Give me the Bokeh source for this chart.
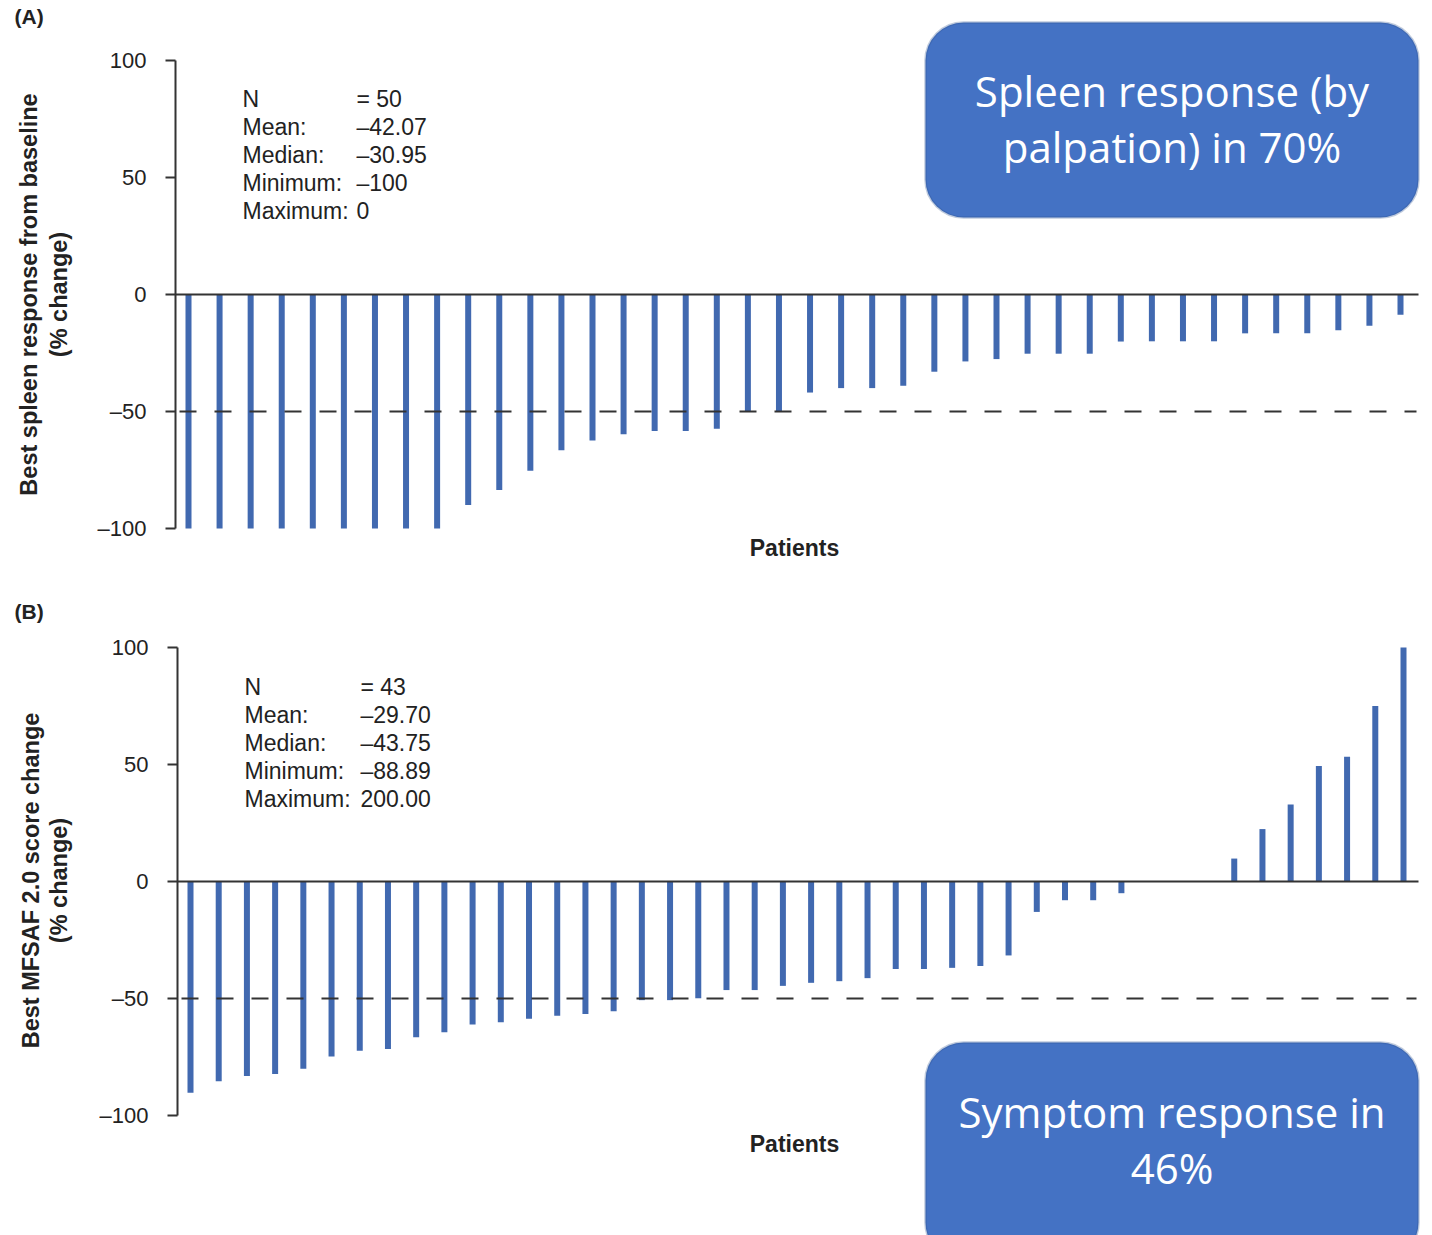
import math
from bokeh.plotting import figure
from bokeh.models import Range1d, Label, BoxAnnotation, FixedTicker, LinearAxis
from bokeh.layouts import column
from bokeh.embed import file_html
from bokeh.resources import INLINE

# ---------------- data ----------------
spleen_change = [-100, -100, -100, -100, -100, -100, -100, -100, -100, -90.0,
                 -83.6, -75.3, -66.6, -62.4, -59.7, -58.3, -58.3, -57.4, -50.0, -50.0,
                 -41.9, -40.0, -40.0, -39.0, -33.0, -28.6, -27.6, -25.3, -25.3, -25.3,
                 -20.1, -20.0, -20.0, -20.0, -16.6, -16.6, -16.6, -15.3, -13.4, -8.7]
mfsaf_change = [-90.3, -85.4, -83.1, -82.3, -80.0, -74.8, -72.3, -71.6, -66.6, -64.4,
                -61.1, -60.1, -58.7, -57.4, -56.6, -55.4, -50.7, -50.7, -49.9, -46.4,
                -46.4, -44.6, -43.3, -42.6, -41.3, -37.4, -37.4, -36.9, -36.1, -31.6,
                -13.0, -8.0, -8.0, -5.0, 0.0, 0.0, 0.0, 9.8, 22.4, 32.9,
                49.4, 53.3, 75.0, 100.0]
tick_values = [-100, -50, 0, 50, 100]
tick_labels = ["\u2013100", "\u201350", "0", "50", "100"]
stat_names = ["N", "Mean:", "Median:", "Minimum:", "Maximum:"]
spleen_stats = ["= 50", "\u201342.07", "\u201330.95", "\u2013100", "0"]
mfsaf_stats = ["= 43", "\u201329.70", "\u201343.75", "\u201388.89", "200.00"]
threshold = -50
spleen_ytitle = ["Best spleen response from baseline", "(% change)"]
mfsaf_ytitle = ["Best MFSAF 2.0 score change", "(% change)"]
spleen_box = ["Spleen response (by", "palpation) in 70%"]
mfsaf_box = ["Symptom response in", "46%"]
x_title = "Patients"

# ---------------- layout constants ----------------
W = 1432
RIGHT = 1420
PXU = 2.34          # pixels per unit on y
BAR_COLOR = "#4169B0"
AXC = "#333333"
TXC = "#222222"
FONT = "Liberation Sans"


def make_panel(values, height, top_canvas, axis_px, first_px, last_px, zero_canvas,
               panel_tag, tag_y, ytitle, ytitle_x, ytitle_y, xtitle_y, stats_vals, stats_x,
               stats_y0, box_rect, box_lines, box_text_y):
    n = len(values)
    sp = (last_px - first_px) / (n - 1)
    x0 = 1 - first_px / sp
    x1 = x0 + RIGHT / sp
    ytop = (zero_canvas - top_canvas) / PXU
    ybot = (zero_canvas - (top_canvas + height)) / PXU

    def dx(px):
        return x0 + px / sp

    def dy(py):
        return (zero_canvas - py) / PXU

    p = figure(width=W, height=height, x_range=Range1d(x0, x1), y_range=Range1d(ybot, ytop),
               output_backend="svg", toolbar_location=None, x_axis_location=None,
               min_border_left=0, min_border_right=W - RIGHT, min_border_top=0,
               min_border_bottom=0, title=None)
    p.outline_line_color = None
    p.grid.visible = False
    p.background_fill_color = "white"
    p.border_fill_color = "white"

    ax = p.yaxis[0]
    ax.fixed_location = dx(axis_px)
    ax.ticker = FixedTicker(ticks=tick_values)
    ax.major_label_overrides = {v: s for v, s in zip(tick_values, tick_labels)}
    ax.bounds = (-100, 100)
    ax.axis_line_color = AXC
    ax.axis_line_width = 2
    ax.major_tick_line_color = AXC
    ax.major_tick_line_width = 2
    ax.major_tick_out = 10
    ax.major_tick_in = 0
    ax.minor_tick_out = 0
    ax.minor_tick_in = 0
    ax.major_label_standoff = 19
    ax.major_label_text_font = FONT
    ax.major_label_text_font_size = "22px"
    ax.major_label_text_color = TXC

    xs = list(range(1, n + 1))
    p.vbar(x=xs, top=values, bottom=0, width=6 / sp, fill_color=BAR_COLOR,
           line_color=None)

    # dashed response threshold
    p.line(x=[dx(axis_px + 4), dx(1416)], y=[threshold, threshold], line_color=AXC,
           line_width=2, line_dash="17 18")

    # zero baseline drawn as a bare x axis at y = 0
    zax = LinearAxis(fixed_location=0, bounds=(dx(axis_px), dx(1418)),
                     ticker=FixedTicker(ticks=[]), axis_line_color=AXC, axis_line_width=2,
                     major_tick_line_color=None, minor_tick_line_color=None,
                     major_label_text_font_size="0px")
    p.add_layout(zax, "below")

    # panel tag
    p.add_layout(Label(x=dx(14), y=dy(tag_y), text=panel_tag, text_font=FONT,
                       text_font_style="bold", text_font_size="21px", text_color=TXC,
                       text_align="left", text_baseline="middle"))
    # y titles
    for t, tx in zip(ytitle, ytitle_x):
        p.add_layout(Label(x=dx(tx), y=dy(ytitle_y), text=t, angle=math.pi / 2,
                           text_font=FONT, text_font_style="bold", text_font_size="23.5px",
                           text_color=TXC, text_align="center", text_baseline="middle"))
    # x title
    p.add_layout(Label(x=dx(794), y=dy(xtitle_y), text=x_title, text_font=FONT,
                       text_font_style="bold", text_font_size="23px", text_color=TXC,
                       text_align="center", text_baseline="middle"))
    # stats
    for i, (nm, vv) in enumerate(zip(stat_names, stats_vals)):
        yy = dy(stats_y0 + 28 * i)
        p.add_layout(Label(x=dx(stats_x[0]), y=yy, text=nm, text_font=FONT,
                           text_font_size="23px", text_color=TXC, text_align="left",
                           text_baseline="middle"))
        p.add_layout(Label(x=dx(stats_x[1]), y=yy, text=vv, text_font=FONT,
                           text_font_size="23px", text_color=TXC, text_align="left",
                           text_baseline="middle"))
    # callout box
    bl, br, bt, bb = box_rect
    p.add_layout(BoxAnnotation(left=dx(bl), right=dx(br), top=dy(bt), bottom=dy(bb),
                               fill_color="#4472C4", fill_alpha=1.0, line_color="#2F528F",
                               line_width=2.5, border_radius=38, level="overlay"))
    cx = (bl + br) / 2
    for t, ty in zip(box_lines, box_text_y):
        p.add_layout(Label(x=dx(cx), y=dy(ty), text=t, text_font="Open Sans",
                           text_font_size="42px", text_color="white", text_align="center",
                           text_baseline="middle", level="overlay"))
    return p


pA = make_panel(spleen_change, 590, 0, 175, 188, 1400, 294, "(A)", 16, spleen_ytitle,
                [28, 58], 294, 547, spleen_stats, (242, 356), 98,
                (925, 1418, 22, 217), spleen_box, [90, 146])
pB = make_panel(mfsaf_change, 645, 590, 177, 190, 1403, 881, "(B)", 611, mfsaf_ytitle,
                [30, 58], 880, 1143, mfsaf_stats, (244, 360), 686,
                (925, 1418, 1042, 1260), mfsaf_box, [1111, 1167])

layout = column(pA, pB, spacing=0)
open("out.html", "w").write(file_html(layout, INLINE))
